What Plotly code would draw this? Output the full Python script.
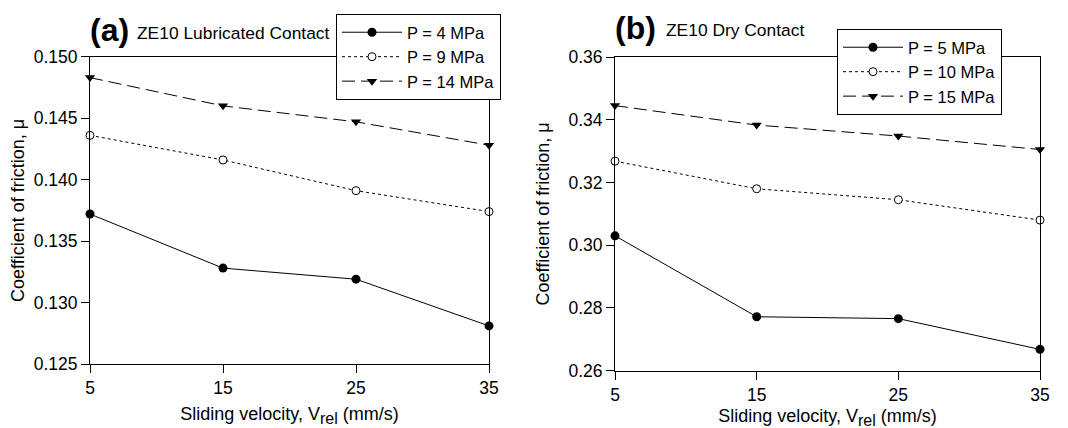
import plotly.graph_objects as go

velocity = [5, 15, 25, 35]
x_ticks = [5, 15, 25, 35]

# (a) ZE10 Lubricated Contact
lub_p4 = [0.1372, 0.1328, 0.1319, 0.1281]
lub_p9 = [0.1436, 0.1416, 0.1391, 0.1374]
lub_p14 = [0.1483, 0.1460, 0.1447, 0.1428]
lub_names = ["P = 4 MPa", "P = 9 MPa", "P = 14 MPa"]
lub_yticks = [0.125, 0.130, 0.135, 0.140, 0.145, 0.150]

# (b) ZE10 Dry Contact
dry_p5 = [0.3030, 0.2772, 0.2766, 0.2668]
dry_p10 = [0.3268, 0.3180, 0.3145, 0.3080]
dry_p15 = [0.3445, 0.3383, 0.3348, 0.3305]
dry_names = ["P = 5 MPa", "P = 10 MPa", "P = 15 MPa"]
dry_yticks = [0.26, 0.28, 0.30, 0.32, 0.34, 0.36]

FONT = "Liberation Sans, Arial, sans-serif"
styles = [
    dict(line=dict(color="black", width=1, dash="solid"),
         marker=dict(symbol="circle", size=9, color="black")),
    dict(line=dict(color="black", width=1, dash="dot"),
         marker=dict(symbol="circle", size=8, color="white", line=dict(color="black", width=1))),
    dict(line=dict(color="black", width=1, dash="13px,6px"),
         marker=dict(symbol="triangle-down", size=9, color="black")),
]

fig = go.Figure()
for ys, name, st in zip([lub_p4, lub_p9, lub_p14], lub_names, styles):
    fig.add_trace(go.Scatter(x=velocity, y=ys, name=name, mode="lines+markers",
                             xaxis="x", yaxis="y", legend="legend", cliponaxis=False, **st))
for ys, name, st in zip([dry_p5, dry_p10, dry_p15], dry_names, styles):
    fig.add_trace(go.Scatter(x=velocity, y=ys, name=name, mode="lines+markers",
                             xaxis="x2", yaxis="y2", legend="legend2", cliponaxis=False, **st))

W, H = 1068, 428
OFF = 8  # page body margin
def px(v): return (v - OFF) / W
def py(v): return 1 - (v - OFF) / H

axis_common = dict(showline=True, linecolor="black", linewidth=1, mirror=True,
                   ticks="outside", ticklen=8, tickcolor="black", showgrid=False,
                   zeroline=False, automargin=False,
                   tickfont=dict(family=FONT, size=17.5, color="black"))

xtitle = 'Sliding velocity, V<sub><span style="font-size:16px">rel</span></sub> (mm/s)'

fig.update_layout(
    width=W, height=H,
    margin=dict(l=0, r=0, t=0, b=0, autoexpand=False),
    paper_bgcolor="white", plot_bgcolor="white",
    font=dict(family=FONT, color="black"),
    xaxis=dict(domain=[px(90), px(489)], range=[5, 35], tickvals=x_ticks,
               anchor="y",
               title=dict(text=xtitle, font=dict(family=FONT, size=18), standoff=10),
               **axis_common),
    yaxis=dict(domain=[py(364), py(56.7)], range=[0.125, 0.150], tickvals=lub_yticks,
               tickformat=".3f", anchor="x",
               title=dict(text="Coefficient of friction, μ",
                          font=dict(family=FONT, size=18), standoff=14),
               **axis_common),
    xaxis2=dict(domain=[px(615), px(1040)], range=[5, 35], tickvals=x_ticks,
                anchor="y2",
                title=dict(text=xtitle, font=dict(family=FONT, size=18), standoff=5),
                **axis_common),
    yaxis2=dict(domain=[py(370.7), py(57)], range=[0.26, 0.36], tickvals=dry_yticks,
                tickformat=".2f", anchor="x2",
                title=dict(text="Coefficient of friction, μ",
                           font=dict(family=FONT, size=18), standoff=14),
                **axis_common),
    legend=dict(x=px(336), y=py(14), xanchor="left", yanchor="top",
                bgcolor="white", bordercolor="black", borderwidth=1,
                font=dict(family=FONT, size=16.5), itemwidth=60,
                tracegroupgap=0),
    legend2=dict(x=px(837), y=py(29), xanchor="left", yanchor="top",
                 bgcolor="white", bordercolor="black", borderwidth=1,
                 font=dict(family=FONT, size=16.5), itemwidth=60,
                 tracegroupgap=0),
    showlegend=True,
)

fig.add_annotation(x=px(88), y=py(30), xref="paper", yref="paper", xanchor="left",
                   yanchor="middle", showarrow=False,
                   text="<b>(a)</b>", font=dict(family=FONT, size=32))
fig.add_annotation(x=px(135), y=py(33), xref="paper", yref="paper", xanchor="left",
                   yanchor="middle", showarrow=False,
                   text="ZE10 Lubricated Contact", font=dict(family=FONT, size=17.4))
fig.add_annotation(x=px(613), y=py(28), xref="paper", yref="paper", xanchor="left",
                   yanchor="middle", showarrow=False,
                   text="<b>(b)</b>", font=dict(family=FONT, size=32))
fig.add_annotation(x=px(664), y=py(30), xref="paper", yref="paper", xanchor="left",
                   yanchor="middle", showarrow=False,
                   text="ZE10 Dry Contact", font=dict(family=FONT, size=17.4))

fig.write_html("out.html")
